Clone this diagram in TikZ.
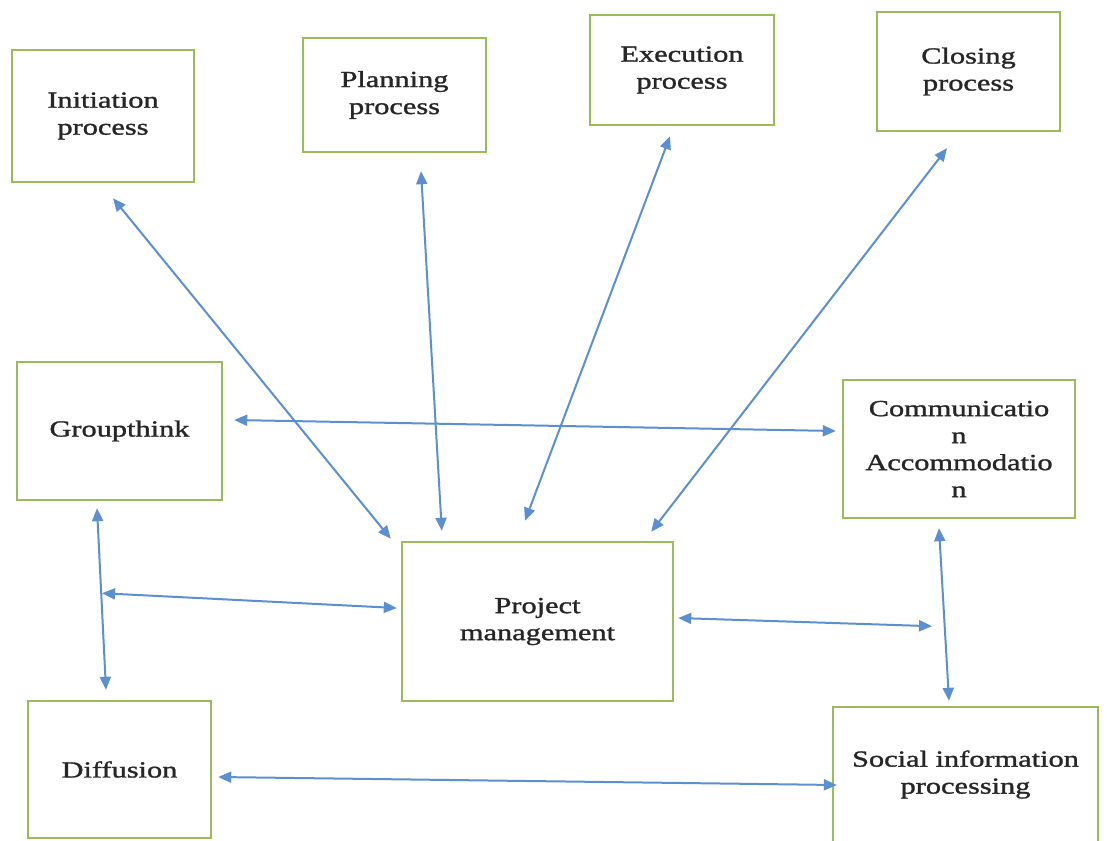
\documentclass[tikz,border=0pt]{standalone}
\usepackage{fontspec}
\setmainfont{Liberation Serif}[FakeStretch=1.32,FakeBold=1.3]
\usetikzlibrary{arrows.meta}
\definecolor{boxgreen}{HTML}{9BBB59}
\definecolor{arrblue}{HTML}{5B8FCF}
\definecolor{txtgray}{HTML}{262626}
\tikzset{
  pbox/.style={draw=boxgreen,line width=2.4pt,fill=white,rectangle,align=center,
    text=txtgray,font=\fontsize{23}{27}\selectfont,inner sep=0pt},
  link/.style={draw=arrblue,line width=2pt,{Triangle[length=13pt,width=11pt]}-{Triangle[length=13pt,width=11pt]}}
}
\begin{document}
\begin{tikzpicture}[x=1pt,y=-1pt]
\clip (0,0) rectangle (1107,840);
\fill[white] (0,0) rectangle (1107,840);
\node[pbox,minimum width=182pt,minimum height=132pt] (init) at (103,116) {Initiation\\process};
\node[pbox,minimum width=183pt,minimum height=114pt] (plan) at (394.5,95) {Planning\\process};
\node[pbox,minimum width=184pt,minimum height=110pt] (exec) at (682,70) {Execution\\process};
\node[pbox,minimum width=183pt,minimum height=119pt] (close) at (968.5,71.5) {Closing\\process};
\node[pbox,minimum width=205pt,minimum height=138pt] (group) at (119.5,431) {Groupthink};
\node[pbox,minimum width=232pt,minimum height=138pt] (comm) at (959,449) {Communicatio\\n\\Accommodatio\\n};
\node[pbox,minimum width=271pt,minimum height=159pt] (pm) at (537.5,621.5) {Project\\management};
\node[pbox,minimum width=183pt,minimum height=137pt] (diff) at (119.5,769.5) {Diffusion};
\node[pbox,minimum width=265pt,minimum height=135pt] (sip) at (965.5,774.5) {Social information\\processing};
% free ends
\coordinate (gtjoin) at ([shift={(-17.5,92)}]group.south);
\coordinate (pmright) at ([shift={(-27,107)}]comm.south);
% connectors
\draw[link] ([shift={(10,15)}]init.south) -- ([shift={(-10,-2)}]pm.north west);
\draw[link] ([shift={(26.5,18)}]plan.south) -- ([shift={(41,-10)}]pm.north west);
\draw[link] ([shift={(-12,10)}]exec.south) -- ([shift={(-12.5,-20)}]pm.north);
\draw[link] ([shift={(-21.5,16)}]close.south) -- ([shift={(-23,-9)}]pm.north east);
\draw[link] ([shift={(11,-11)}]group.east) -- ([shift={(-6,-18)}]comm.west);
\draw[link] ([shift={(-22.5,7)}]group.south) -- ([shift={(-13.5,-10)}]diff.north);
\draw[link] (gtjoin) -- ([shift={(-4,-13.5)}]pm.west);
\draw[link] ([shift={(4,-3.5)}]pm.east) -- (pmright);
\draw[link] ([shift={(-20,9)}]comm.south) -- ([shift={(-16.5,-5)}]sip.north);
\draw[link] ([shift={(6,7.5)}]diff.east) -- ([shift={(5,10.5)}]sip.west);
\end{tikzpicture}
\end{document}
